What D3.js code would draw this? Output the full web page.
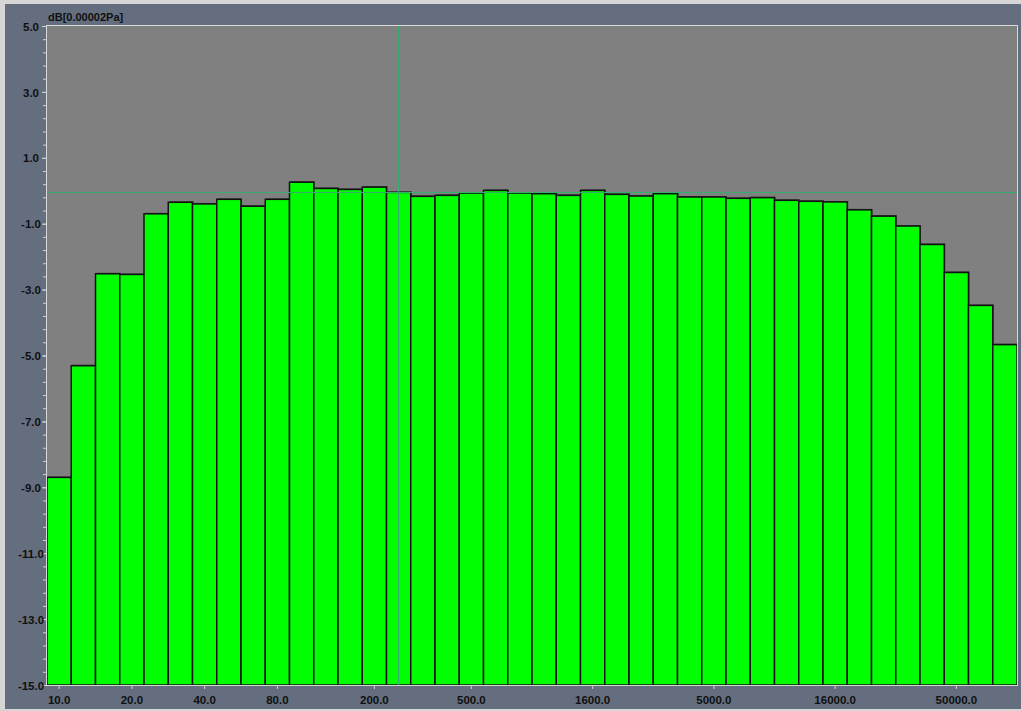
<!DOCTYPE html>
<html>
<head>
<meta charset="utf-8">
<script src="https://cdn.jsdelivr.net/npm/d3@7/dist/d3.min.js"></script>
<style>
html, body { margin:0; padding:0; background:#d6d6d6; overflow:hidden; }
svg { display:block; }
text { font-family:"Liberation Sans", Arial, sans-serif; font-weight:bold; fill:#101010; }
</style>
</head>
<body>
<svg id="chart" width="1021" height="711"></svg>
<script>

//******************************************************************************
//**  Data
//******************************************************************************
var bands = [10, 12.5, 16, 20, 25, 31.5, 40, 50, 63, 80,
             100, 125, 160, 200, 250, 315, 400, 500, 630, 800,
             1000, 1250, 1600, 2000, 2500, 3150, 4000, 5000, 6300, 8000,
             10000, 12500, 16000, 20000, 25000, 31500, 40000, 50000, 63000, 80000];

var levels = [-8.70, -5.31, -2.52, -2.54, -0.70, -0.35, -0.40, -0.26, -0.47, -0.26,
               0.26,  0.07,  0.04,  0.11, -0.05, -0.17, -0.14, -0.07,  0.01, -0.07,
              -0.09, -0.14,  0.01, -0.11, -0.16, -0.09, -0.19, -0.19, -0.23, -0.21,
              -0.29, -0.32, -0.34, -0.58, -0.77, -1.07, -1.63, -2.48, -3.48, -4.67];

var xTickBands = [10, 20, 40, 80, 200, 500, 1600, 5000, 16000, 50000];
var yTickLabels = [5, 3, 1, -1, -3, -5, -7, -9, -11, -13, -15];
var yMinorCount = 50;
var unitLabel = "dB[0.00002Pa]";
var cursorBand = 250;


//******************************************************************************
//**  Chart
//******************************************************************************
var width = 1021, height = 711;
var margin = { top: 26, right: 4, bottom: 26, left: 47 };

var svg = d3.select("#chart");

//background panel
svg.append("rect")
    .attr("x", 5).attr("y", 4)
    .attr("width", width - 5).attr("height", 705)
    .attr("fill", "#646e7e");

var x = d3.scaleBand()
    .domain(bands)
    .range([margin.left, width - margin.right])
    .padding(0);

var y = d3.scaleLinear()
    .domain([-15, 5])
    .range([height - margin.bottom, margin.top]);

//plot area
svg.append("rect")
    .attr("x", margin.left).attr("y", margin.top)
    .attr("width", x.range()[1] - margin.left)
    .attr("height", y(-15) - margin.top)
    .attr("fill", "#808080");

var barArea = svg.append("g");
var bw = x.bandwidth();

//bar shadows
barArea.selectAll("rect.shadow")
    .data(bands)
    .enter()
    .append("rect")
    .attr("class", "shadow")
    .attr("x", function(d){ return x(d) + 1; })
    .attr("y", function(d, i){ return y(levels[i]) - 1; })
    .attr("width", bw)
    .attr("height", function(d, i){ return y(-15) - y(levels[i]); })
    .attr("fill", "#3c3c3c");

//bars
barArea.selectAll("rect.bar")
    .data(bands)
    .enter()
    .append("rect")
    .attr("class", "bar")
    .attr("x", function(d){ return x(d); })
    .attr("y", function(d, i){ return y(levels[i]); })
    .attr("width", bw)
    .attr("height", function(d, i){ return y(-15) - y(levels[i]); })
    .attr("fill", "#00ff00")
    .attr("stroke", "#111")
    .attr("stroke-width", 1.5);

//cursor
var ci = bands.indexOf(cursorBand);
var cx = Math.round(x(cursorBand) + bw / 2) - 0.5;
var cy = Math.round(y(levels[ci])) + 0.5;
svg.append("line")
    .attr("x1", margin.left).attr("x2", x.range()[1])
    .attr("y1", cy).attr("y2", cy)
    .attr("stroke", "#34ad6e").attr("stroke-width", 1);
svg.append("line")
    .attr("x1", cx).attr("x2", cx)
    .attr("y1", margin.top).attr("y2", y(-15))
    .attr("stroke", "#34ad6e").attr("stroke-width", 1);

//plot border
svg.append("rect")
    .attr("x", margin.left - 0.5).attr("y", margin.top - 0.5)
    .attr("width", x.range()[1] - margin.left + 1)
    .attr("height", y(-15) - margin.top + 1)
    .attr("fill", "none")
    .attr("stroke", "#d8d8d8");

//y axis - minor ticks
var minorTicks = d3.range(yMinorCount + 1).map(function(i){ return -15 + i * 0.4; });
var yMinor = svg.append("g")
    .attr("transform", "translate(" + (margin.left - 1) + ",0)")
    .call(d3.axisLeft(y).tickValues(minorTicks).tickSize(3).tickFormat(""));

//y axis - labels
var yMajor = svg.append("g")
    .attr("transform", "translate(" + (margin.left - 1) + ",0)")
    .call(d3.axisLeft(y).tickValues(yTickLabels).tickSize(4)
        .tickFormat(function(d){ return d.toFixed(1); }));
yMajor.selectAll("text")
    .attr("text-anchor", "middle")
    .attr("x", -15)
    .attr("dy", "0.36em");

//x axis
var xAxis = svg.append("g")
    .attr("transform", "translate(0," + (y(-15) + 1) + ")")
    .call(d3.axisBottom(x).tickValues(xTickBands).tickSize(3).tickPadding(7)
        .tickFormat(function(d){ return d.toFixed(1); }));

[yMinor, yMajor, xAxis].forEach(function(g){
    g.select(".domain").remove();
    g.selectAll(".tick line").attr("stroke", "#d0d0d0");
    g.selectAll("text")
        .attr("font-family", "'Liberation Sans', Arial, sans-serif")
        .attr("font-weight", "bold")
        .attr("font-size", "11.5px")
        .attr("fill", "#101010");
});

//unit label
svg.append("text")
    .attr("x", 48).attr("y", 21)
    .attr("font-size", "11px")
    .text(unitLabel);

</script>
</body>
</html>
